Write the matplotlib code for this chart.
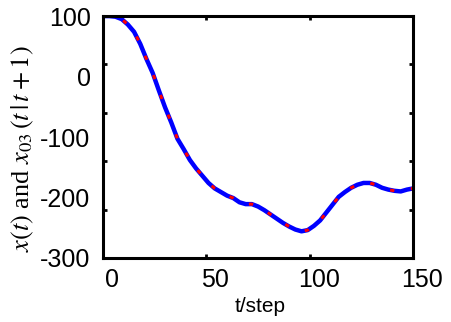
import numpy as np
import matplotlib
matplotlib.use("Agg")
import matplotlib.pyplot as plt
from matplotlib.ticker import FixedLocator
from matplotlib.transforms import ScaledTranslation

# time axis and trajectory
t_step = [0, 3, 6, 9, 12, 15, 18, 21, 24, 27, 30, 33, 36, 39, 42, 45, 48,
          51, 54, 57, 60, 63, 66, 69, 72, 75, 78, 81, 84, 87, 90, 93, 96,
          99, 102, 105, 108, 111, 114, 117, 120, 123, 126, 129, 132, 135,
          138, 141, 144, 147, 150]
x_true = [100, 100, 99, 95, 86, 74, 54, 29, 6, -23, -51, -76, -103, -120,
          -138, -152, -164, -176, -185, -191, -197, -201, -208, -211, -211,
          -215, -221, -228, -235, -242, -248, -253, -256, -254, -247, -238,
          -225, -212, -199, -191, -184, -179, -176, -176, -179, -184, -187,
          -189, -190, -187, -185]
x_est = [100, 100, 99, 95, 86, 74, 54, 29, 6, -23, -51, -76, -103, -120,
         -138, -152, -164, -176, -185, -191, -197, -201, -208, -211, -211,
         -215, -221, -228, -235, -242, -248, -253, -256, -254, -247, -238,
         -225, -212, -199, -191, -184, -179, -176, -176, -179, -184, -187,
         -189, -190, -187, -185]

x_ticks = [0, 50, 100, 150]
y_ticks = [100, 0, -100, -200, -300]
y_marks = [20, -60, -140, -220]

plt.rcParams['font.family'] = ['Liberation Sans', 'DejaVu Sans']
plt.rcParams['mathtext.fontset'] = 'stix'
plt.rcParams['axes.unicode_minus'] = False

fig = plt.figure(figsize=(4.52, 3.22), dpi=100)
ax = fig.add_axes([0.228, 0.199, 0.686, 0.751])

ax.plot(t_step, x_true, color='blue', lw=3.2, solid_capstyle='round')
ax.plot(t_step, x_est, color='#ff0000', lw=2.2, dashes=(1.4, 5.5))

ax.set_xlim(0, 150)
ax.set_ylim(-300, 100)
ax.set_xticks(x_ticks)
ax.set_yticks(y_ticks)
ax.yaxis.set_minor_locator(FixedLocator(y_marks))

for s in ax.spines.values():
    s.set_linewidth(2.2)

ax.tick_params(axis='both', which='major', direction='in', labelsize=18,
               top=True, right=True, length=3, width=2)
ax.tick_params(axis='y', which='major', length=0, pad=9)
ax.tick_params(axis='x', which='major', pad=7)
ax.tick_params(axis='y', which='minor', direction='in', right=True,
               length=3, width=2)

# x tick labels sit a little right of their ticks in the original
shift = ScaledTranslation(9 / 100, 0, fig.dpi_scale_trans)
for lab in ax.get_xticklabels():
    lab.set_transform(lab.get_transform() + shift)

ax.set_xlabel('t/step', fontsize=15)
ax.xaxis.set_label_coords(0.508, -0.16)
ax.set_ylabel(r'$x(t)$ and $x_{03}\,(t\,|\,t+1)$', fontsize=19,
              family=['Liberation Serif', 'DejaVu Serif'])
ax.yaxis.set_label_coords(-0.215, 0.45)

fig.savefig('out.png', dpi=100)
